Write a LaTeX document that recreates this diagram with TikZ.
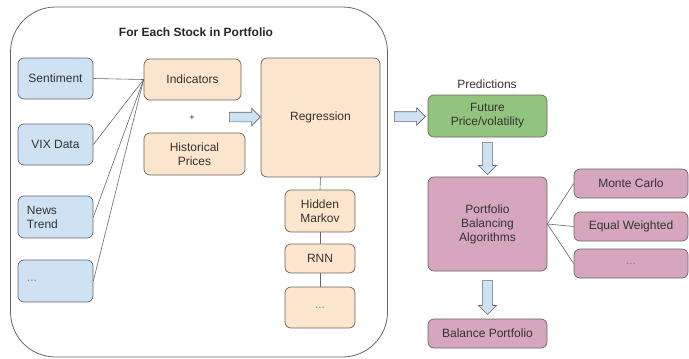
\documentclass[tikz,border=0pt]{standalone}
\usepackage{fontspec}
\setmainfont{Liberation Sans}
\usetikzlibrary{shapes.arrows}
\definecolor{cblue}{HTML}{CFE2F3}
\definecolor{corange}{HTML}{FCE5CD}
\definecolor{cgreen}{HTML}{93C47D}
\definecolor{cpink}{HTML}{D5A6BD}
\definecolor{cline}{HTML}{666666}
\definecolor{ctext}{HTML}{333333}
\tikzset{
  box/.style={draw=cline, line width=0.7pt, rounded corners=6pt, align=center, inner sep=1pt,
    font=\fontsize{12}{14}\selectfont, text=ctext},
  bluebox/.style={box, fill=cblue},
  orangebox/.style={box, fill=corange},
  greenbox/.style={box, fill=cgreen},
  pinkbox/.style={box, fill=cpink},
  conn/.style={draw=cline, line width=0.6pt},
  blockarrow/.style={single arrow, draw=cline, fill=cblue, line width=0.6pt, inner xsep=0pt, inner ysep=4.5pt,
    single arrow head extend=4pt, single arrow head indent=0pt, text width=0pt},
  downarrow/.style={blockarrow, shape border rotate=270, inner xsep=4.8pt, inner ysep=0pt},
  lbl/.style={font=\fontsize{12}{14}\selectfont, text=ctext, inner sep=0pt}
}
\begin{document}
\begin{tikzpicture}[x=1pt,y=-1pt]
\useasboundingbox (0,0) rectangle (689,359);
% container
\node[draw=cline, line width=0.8pt, rounded corners=45pt, minimum width=377pt, minimum height=350pt, inner sep=0pt] (cont) at (199,182) {};
\node[font=\bfseries\fontsize{12}{14}\selectfont, text=black!85, inner sep=0pt] (title) at (196,32) {For Each Stock in Portfolio};
% left inputs
\node[bluebox, minimum width=75pt, minimum height=41pt] (sent) at (55.5,78.5) {Sentiment};
\node[bluebox, minimum width=75pt, minimum height=41pt] (vix) at (55.5,144.5) {VIX Data};
\node[bluebox, minimum width=75pt, minimum height=42pt, text width=57pt, align=left, inner sep=0pt] (news) at (55.5,217) {News\\Trend};
\node[bluebox, minimum width=75pt, minimum height=42pt, text width=57pt, align=left, inner sep=0pt] (dotsa) at (55.5,281) {\textcolor{gray}{...}};
% features
\node[orangebox, minimum width=97pt, minimum height=41pt] (ind) at (192.5,79.5) {Indicators};
\node[lbl, font=\fontsize{9}{10}\selectfont] (plus) at (192,118) {+};
\node[orangebox, minimum width=101pt, minimum height=42pt] (hist) at (194.5,154) {Historical\\Prices};
\node[orangebox, minimum width=119pt, minimum height=119pt] (reg) at (320.5,117.5) {Regression};
\node[orangebox, minimum width=70pt, minimum height=42pt] (hmm) at (320,211) {Hidden\\Markov};
\node[orangebox, minimum width=70pt, minimum height=29pt] (rnn) at (320,258.5) {RNN};
\node[orangebox, minimum width=70pt, minimum height=41pt] (dotsb) at (320,307.5) {\textcolor{gray}{...}};
% right side
\node[lbl] (pred) at (487,84) {Predictions};
\node[greenbox, minimum width=119pt, minimum height=42pt] (fut) at (487.5,116) {Future\\Price/volatility};
\node[pinkbox, minimum width=119pt, minimum height=94pt] (pba) at (487.5,224) {Portfolio\\Balancing\\Algorithms};
\node[pinkbox, minimum width=119pt, minimum height=29pt] (bal) at (487.5,333.5) {Balance Portfolio};
\node[pinkbox, minimum width=114pt, minimum height=29pt] (mc) at (631,183.5) {Monte Carlo};
\node[pinkbox, minimum width=114pt, minimum height=29pt] (eq) at (631,226.5) {Equal Weighted};
\node[pinkbox, minimum width=114pt, minimum height=29pt] (dotsc) at (631,263.5) {\textcolor{gray}{...}};
% block arrows
\node[blockarrow, minimum height=31pt] (a1) at (242.5,117) {};
\node[blockarrow, minimum height=31pt] (a2) at (407.5,116.5) {};
\node[downarrow, minimum height=32pt] (a3) at (487.5,156) {};
\node[downarrow, minimum height=34pt] (a4) at (487.5,295) {};
% connectors
\draw[conn] (sent.east) -- (ind.west);
\draw[conn] (vix.east) -- (ind.west);
\draw[conn] (news.east) -- (ind.west);
\draw[conn] (dotsa.east) -- (ind.west);
\draw[conn] (reg.south) -- (hmm.north);
\draw[conn] (hmm.south) -- (rnn.north);
\draw[conn] (rnn.south) -- (dotsb.north);
\draw[conn] (pba.east) -- (mc.west);
\draw[conn] (pba.east) -- (eq.west);
\draw[conn] (pba.east) -- (dotsc.west);
\end{tikzpicture}
\end{document}
